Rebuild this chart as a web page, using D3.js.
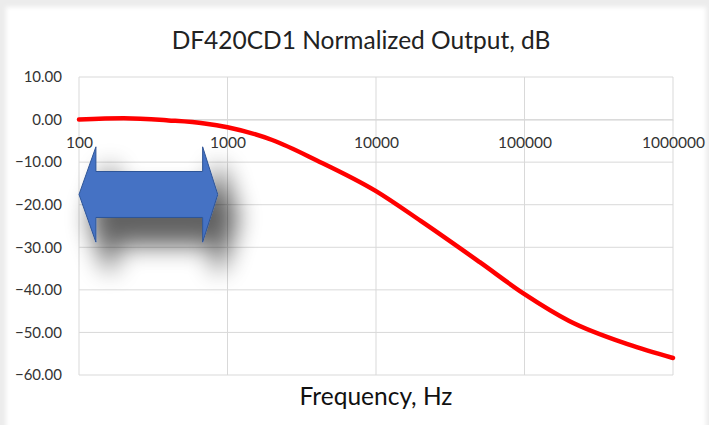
<!DOCTYPE html>
<html>
<head>
<meta charset="utf-8">
<script src="https://cdn.jsdelivr.net/npm/d3@7"></script>
<style>
  html, body { margin: 0; padding: 0; background: #ececec; }
  svg { display: block; font-family: Lato, "Open Sans", sans-serif; }
</style>
</head>
<body>
<div id="chart"></div>
<script>
const freqs = [100, 200, 400, 700, 1000, 2000, 4000, 10000, 20000, 50000, 100000, 200000, 500000, 1000000];
const outputDb = [0, 0.3, -0.2, -0.9, -1.8, -4.8, -9.6, -16.8, -23.8, -33.5, -41.0, -47.3, -52.8, -56.0];
const xTicks = [100, 1000, 10000, 100000, 1000000];
const yTicks = [10, 0, -10, -20, -30, -40, -50, -60];

// arrow annotation, in data units: tips, head bases, centre line, half heights
const arrowFreq = { tipL: 100, baseL: 130, baseR: 680, tipR: 860 };
const arrowDb = { mid: -17.6, head: 11.2, shaft: 5.4 };

const svgWidth = 709;
const svgHeight = 425;
const margin = { top: 77, right: 36, bottom: 50, left: 79 };
const width = svgWidth - margin.left - margin.right;
const height = svgHeight - margin.top - margin.bottom;

const root = d3.select('#chart')
    .append('svg')
    .attr('width', svgWidth)
    .attr('height', svgHeight);

const defs = root.append('defs');
const edge = defs.append('filter').attr('id', 'edge')
    .attr('x', '-5%').attr('y', '-5%').attr('width', '110%').attr('height', '110%');
edge.append('feGaussianBlur').attr('stdDeviation', 2);

const shadow = defs.append('filter').attr('id', 'shadow')
    .attr('x', '-60%').attr('y', '-60%').attr('width', '220%').attr('height', '220%');
shadow.append('feMorphology').attr('in', 'SourceAlpha').attr('operator', 'dilate').attr('radius', 4).attr('result', 'd');
shadow.append('feGaussianBlur').attr('in', 'd').attr('stdDeviation', 12).attr('result', 'b');
shadow.append('feOffset').attr('in', 'b').attr('dx', 15).attr('dy', 24).attr('result', 'o');
shadow.append('feComponentTransfer').attr('in', 'o').attr('result', 'f')
    .append('feFuncA').attr('type', 'linear').attr('slope', 0.62);
const merge = shadow.append('feMerge');
merge.append('feMergeNode').attr('in', 'f');
merge.append('feMergeNode').attr('in', 'SourceGraphic');

// white chart card
root.append('rect')
    .attr('x', 6).attr('y', 7)
    .attr('width', svgWidth - 9).attr('height', svgHeight)
    .attr('fill', '#fff')
    .attr('filter', 'url(#edge)');

root.append('text')
    .attr('x', 361).attr('y', 49)
    .attr('text-anchor', 'middle')
    .attr('font-size', 24.5)
    .attr('fill', '#222')
    .text('DF420CD1 Normalized Output, dB');

root.append('text')
    .attr('x', 376).attr('y', 405)
    .attr('text-anchor', 'middle')
    .attr('font-size', 24.5)
    .attr('fill', '#111')
    .text('Frequency, Hz');

const svg = root.append('g')
    .attr('transform', `translate(${margin.left}, ${margin.top})`);

const x = d3.scaleLog().domain([100, 1000000]).range([0, width]);
const y = d3.scaleLinear().domain([-60, 10]).range([height, 0]);

// gridlines
svg.append('g')
    .selectAll('line')
    .data(yTicks)
    .join('line')
    .attr('x1', 0).attr('x2', width)
    .attr('y1', d => y(d)).attr('y2', d => y(d))
    .attr('stroke', '#d9d9d9').attr('stroke-width', 1);

svg.append('g')
    .selectAll('line')
    .data(xTicks)
    .join('line')
    .attr('x1', d => x(d)).attr('x2', d => x(d))
    .attr('y1', 0).attr('y2', height)
    .attr('stroke', '#d9d9d9').attr('stroke-width', 1);

// y axis labels
const yAxis = svg.append('g')
    .call(d3.axisLeft(y).tickValues(yTicks).tickFormat(d3.format('.2f')).tickSize(0).tickPadding(17));
yAxis.select('.domain').remove();
yAxis.selectAll('text').attr('font-size', 15).attr('fill', '#333').attr('font-family', 'Lato, sans-serif');

// x axis sits at 0 dB, labels below
const xAxis = svg.append('g')
    .attr('transform', `translate(0, ${y(0)})`)
    .call(d3.axisBottom(x).tickValues(xTicks).tickFormat(d3.format('d')).tickSize(0).tickPadding(17));
xAxis.select('.domain').attr('stroke', '#d9d9d9');
xAxis.selectAll('text').attr('font-size', 15.5).attr('fill', '#333').attr('font-family', 'Lato, sans-serif');

// response curve
const line = d3.line()
    .x((d, i) => x(freqs[i]))
    .y(d => y(d))
    .curve(d3.curveMonotoneX);

svg.append('path')
    .datum(outputDb)
    .attr('d', line)
    .attr('fill', 'none')
    .attr('stroke', '#ff0000')
    .attr('stroke-width', 4.5)
    .attr('stroke-linecap', 'round');

// double-headed arrow
const ax = [x(arrowFreq.tipL), x(arrowFreq.baseL), x(arrowFreq.baseR), x(arrowFreq.tipR)];
const ym = y(arrowDb.mid);
const hh = y(arrowDb.mid - arrowDb.head) - ym;
const sh = y(arrowDb.mid - arrowDb.shaft) - ym;
const pts = [
    [ax[0], ym], [ax[1], ym - hh], [ax[1], ym - sh], [ax[2], ym - sh], [ax[2], ym - hh],
    [ax[3], ym], [ax[2], ym + hh], [ax[2], ym + sh], [ax[1], ym + sh], [ax[1], ym + hh]
];
svg.append('polygon')
    .attr('points', pts.map(p => p.join(',')).join(' '))
    .attr('fill', '#4472c4')
    .attr('stroke', '#2f5597')
    .attr('stroke-width', 1)
    .attr('filter', 'url(#shadow)');
</script>
</body>
</html>
